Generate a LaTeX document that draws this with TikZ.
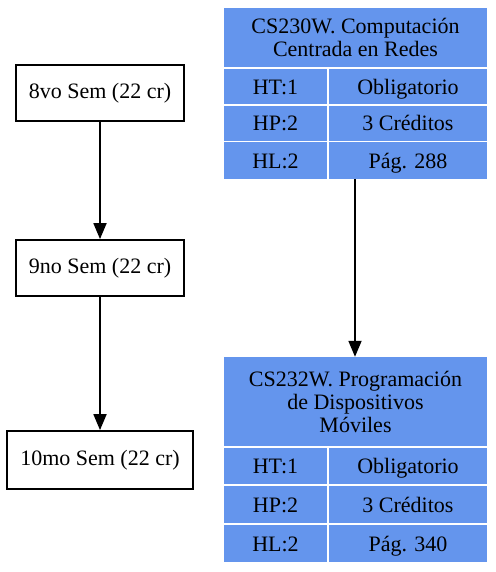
\documentclass[tikz,border=0pt]{standalone}
\usepackage{fontspec}
\setmainfont{Liberation Serif}
\newfontfamily\gvfont{Liberation Serif}
\usetikzlibrary{arrows.meta}
\definecolor{cellblue}{HTML}{6495ED}

\begin{document}
\begin{tikzpicture}[x=1pt, y=-1pt,
		every node/.style={font=\gvfont\fontsize{22}{23}\selectfont, inner sep=0pt},
		sem/.style={draw=black, line width=1.8pt, fill=white, minimum height=56pt},
		cell/.style={fill=cellblue, text=black, align=center},
		row/.style={cell, text height=15pt, text depth=0pt},
		link/.style={line width=1.8pt, -{Triangle[length=16pt, width=13pt]}}]
			%%%%% START %%%%%
			
			\useasboundingbox (0, 0) rectangle (495, 572);
			
			% semestres
			\node[sem, minimum width=168pt] (sem8) at (100, 93) {8vo Sem (22 cr)};
			\node[sem, minimum width=168pt] (sem9) at (100, 268) {9no Sem (22 cr)};
			\node[sem, minimum width=186pt, minimum height=58pt] (sem10) at (100, 460) {10mo Sem (22 cr)};
			
			\draw[link] (sem8) -- (sem9);
			\draw[link] (sem9) -- (sem10);
			
			% CS230W
			\node[cell, minimum width=263pt, minimum height=59pt] (cs230) at (355.5, 37.5) {CS230W. Computación\\Centrada en Redes};
			\node[row, minimum width=103pt, minimum height=35pt] (cs230ht) at (275.5, 87) {HT:1};
			\node[row, minimum width=158pt, minimum height=35pt] (cs230ob) at (408, 87) {Obligatorio};
			\node[row, minimum width=103pt, minimum height=35pt] (cs230hp) at (275.5, 123.5) {HP:2};
			\node[row, minimum width=158pt, minimum height=35pt] (cs230cr) at (408, 123.5) {3 Créditos};
			\node[row, minimum width=103pt, minimum height=37pt] (cs230hl) at (275.5, 160.5) {HL:2};
			\node[row, minimum width=158pt, minimum height=37pt] (cs230pg) at (408, 160.5) {Pág. 288};
			
			% CS232W
			\node[cell, minimum width=263pt, minimum height=89pt] (cs232) at (355.5, 401.5) {CS232W. Programación\\de Dispositivos\\Móviles};
			\node[row, minimum width=103pt, minimum height=36pt] (cs232ht) at (275.5, 466) {HT:1};
			\node[row, minimum width=158pt, minimum height=36pt] (cs232ob) at (408, 466) {Obligatorio};
			\node[row, minimum width=103pt, minimum height=37pt] (cs232hp) at (275.5, 504.5) {HP:2};
			\node[row, minimum width=158pt, minimum height=37pt] (cs232cr) at (408, 504.5) {3 Créditos};
			\node[row, minimum width=103pt, minimum height=37pt] (cs232hl) at (275.5, 543.5) {HL:2};
			\node[row, minimum width=158pt, minimum height=37pt] (cs232pg) at (408, 543.5) {Pág. 340};
			
			\draw[link] ([xshift=-0.5pt]cs230hl.south -| cs230.south) -- ([xshift=-0.5pt]cs232.north);
			
			%%%%% END %%%%%
		\end{tikzpicture}
\end{document}
